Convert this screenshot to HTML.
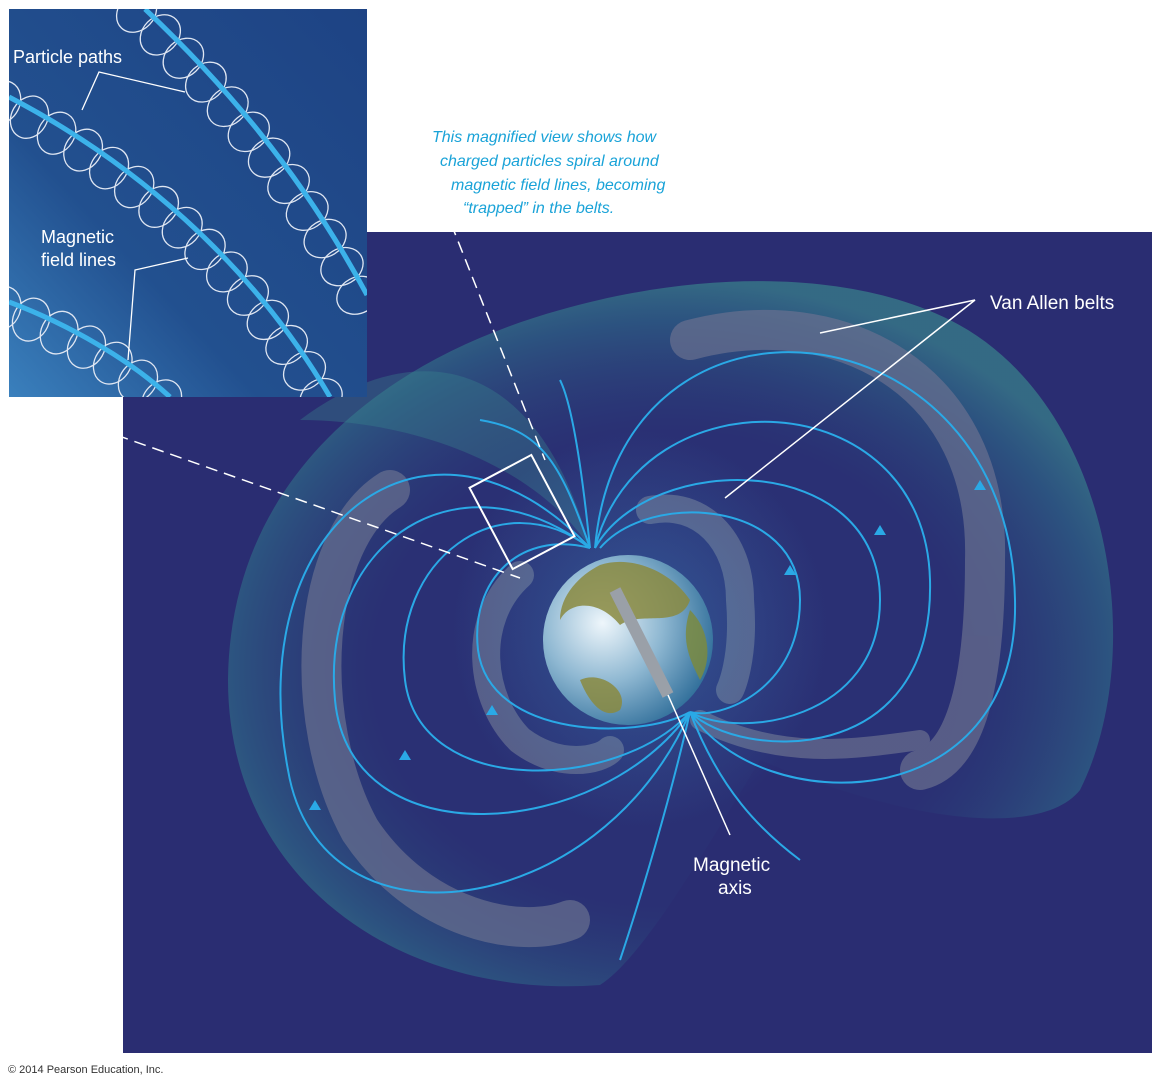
<!DOCTYPE html>
<html><head><meta charset="utf-8"><style>
body{margin:0;background:#fff;width:1162px;height:1088px;overflow:hidden;font-family:"Liberation Sans",sans-serif}
svg{position:absolute;left:0;top:0}
</style></head><body>
<svg width="1162" height="1088" viewBox="0 0 1162 1088" xmlns="http://www.w3.org/2000/svg">
<defs>
<linearGradient id="ins" x1="1" y1="0" x2="0" y2="1">
<stop offset="0" stop-color="#1e4384"/><stop offset="0.65" stop-color="#22508f"/><stop offset="1" stop-color="#3a80bd"/></linearGradient>
<radialGradient id="earth" cx="0.35" cy="0.4" r="0.7">
<stop offset="0" stop-color="#eef6fb"/><stop offset="0.5" stop-color="#8fb8d2"/><stop offset="1" stop-color="#2d6c98"/></radialGradient>
<radialGradient id="glow" cx="0.5" cy="0.5" r="0.5">
<stop offset="0" stop-color="#4bb6e8" stop-opacity="0.6"/><stop offset="1" stop-color="#4bb6e8" stop-opacity="0"/></radialGradient>
<radialGradient id="env" cx="0.5" cy="0.55" r="0.55">
<stop offset="0.6" stop-color="#2a3a7a" stop-opacity="0.2"/><stop offset="0.9" stop-color="#2f7a8e" stop-opacity="0.5"/><stop offset="1" stop-color="#3a8a8e" stop-opacity="0.65"/></radialGradient>
</defs>
<rect x="123" y="232" width="1029" height="821" fill="#2a2d72"/>
<path d="M228,680 C230,480 380,360 560,310 C700,270 850,270 950,320 C1110,400 1150,650 1080,790 C1040,840 900,820 760,760 C700,860 640,960 600,985 C400,1000 228,880 228,680Z" fill="url(#env)"/>
<path d="M300,420 C420,330 540,360 590,548 C540,470 420,420 300,420Z" fill="#3a8a8e" opacity="0.35"/>
<g fill="none" stroke="#6a7090" stroke-linecap="round" opacity="0.7">
<path d="M690,340 C840,300 990,380 985,560 C985,700 960,760 920,770" stroke-width="40"/>
<path d="M390,490 C310,540 300,720 360,830 C420,920 520,940 570,920" stroke-width="40"/>
<path d="M650,510 C700,500 740,540 740,600 C745,660 730,690 730,690" stroke-width="28"/>
<path d="M520,575 C470,620 480,700 520,740 C560,770 600,760 610,750" stroke-width="28"/>
<path d="M700,720 C780,760 850,750 920,740" stroke-width="20"/>
</g>
<ellipse cx="640" cy="630" rx="190" ry="200" fill="url(#glow)" opacity="0.5"/>
<g fill="none" stroke="#2aa9e6" stroke-width="2">
<path d="M590,548 C430,380 240,520 288,770 C320,960 600,920 690,712"/>
<path d="M590,548 C460,450 320,540 335,700 C350,860 600,840 690,712"/>
<path d="M590,548 C500,480 390,560 405,680 C420,800 620,790 690,712"/>
<path d="M590,548 C520,530 470,580 478,650 C490,740 640,740 690,712"/>
<path d="M595,548 C620,260 1010,300 1015,600 C1020,820 760,820 690,712"/>
<path d="M595,548 C640,370 925,380 930,580 C935,770 740,760 690,712"/>
<path d="M595,548 C650,450 880,450 880,600 C880,720 740,740 690,712"/>
<path d="M600,548 C650,490 800,500 800,600 C800,690 720,720 690,712"/>
<path d="M590,548 C560,460 540,430 480,420"/><path d="M590,548 C580,450 570,400 560,380"/>
<path d="M690,712 C670,800 640,900 620,960"/><path d="M690,712 C720,790 760,830 800,860"/>
</g>
<g fill="#2aa9e6">
<path d="M315,800 l-6,10 h12z"/><path d="M405,750 l-6,10 h12z"/><path d="M492,705 l-6,10 h12z"/>
<path d="M980,480 l-6,10 h12z"/><path d="M880,525 l-6,10 h12z"/><path d="M790,565 l-6,10 h12z"/>
</g>
<circle cx="628" cy="640" r="85" fill="url(#earth)"/>
<path d="M600,565 C630,555 670,570 690,600 C680,630 640,610 620,625 C600,600 570,600 560,620 C560,595 580,575 600,565Z" fill="#8a8a40" opacity="0.85"/>
<path d="M580,680 C600,670 630,690 620,710 C605,720 590,705 580,680Z" fill="#8a8a40" opacity="0.85"/>
<path d="M690,610 C710,630 712,660 700,680 C690,660 680,640 690,610Z" fill="#7a8a40" opacity="0.85"/>
<line x1="615" y1="590" x2="668" y2="695" stroke="#9aa0a8" stroke-width="12"/>
<line x1="668" y1="695" x2="730" y2="835" stroke="#fff" stroke-width="1.5"/>
<rect x="487" y="466" width="70" height="92" fill="none" stroke="#fff" stroke-width="2" transform="rotate(-28 522 512)"/>
<g stroke="#fff" stroke-width="1.5" stroke-dasharray="12,7" fill="none">
<line x1="367" y1="12" x2="545" y2="460"/><line x1="9" y1="397" x2="520" y2="578"/>
</g>
<svg x="9" y="9" width="358" height="388" viewBox="9 9 358 388" overflow="hidden">
<rect x="9" y="9" width="358" height="388" fill="url(#ins)"/>
<g id="loops" fill="none" stroke="#dfe6f2" stroke-width="1.3"></g>
<g fill="none" stroke="#3cb2ea" stroke-width="5">
<path id="l1" d="M145,9 C220,80 300,170 367,295"/>
<path id="l2" d="M9,97 C130,160 250,260 330,397"/>
<path id="l3" d="M9,302 C70,325 130,360 170,397"/>
</g>
</svg>
<g stroke="#fff" stroke-width="1.3" fill="none">
<polyline points="185,92 99,72 82,110"/><polyline points="188,258 135,270 128,360"/>
</g>
<text x="13" y="63" fill="#fff" font-size="18">Particle paths</text>
<text x="41" y="243" fill="#fff" font-size="18">Magnetic</text>
<text x="41" y="266" fill="#fff" font-size="18">field lines</text>
<g fill="#1aa3d8" font-size="16" font-style="italic">
<text x="432" y="142">This magnified view shows how</text>
<text x="440" y="166">charged particles spiral around</text>
<text x="451" y="190">magnetic field lines, becoming</text>
<text x="463" y="213">“trapped” in the belts.</text>
</g>
<g stroke="#fff" stroke-width="1.5" fill="none"><polyline points="820,333 975,300 725,498"/></g>
<text x="990" y="309" fill="#fff" font-size="19">Van Allen belts</text>
<text x="693" y="871" fill="#fff" font-size="19">Magnetic</text>
<text x="718" y="894" fill="#fff" font-size="19">axis</text>
<text x="8" y="1073" fill="#333" font-size="11">© 2014 Pearson Education, Inc.</text>
</svg>
<script>
var g=document.getElementById('loops'),s='';
['l1','l2','l3'].forEach(function(id){var p=document.getElementById(id),L=p.getTotalLength(),n=Math.floor(L/31);
for(var i=0;i<=n;i++){var d=i*L/n,a=p.getPointAtLength(d),b=p.getPointAtLength(Math.min(L,d+1)),c=p.getPointAtLength(Math.max(0,d-1));
var ang=Math.atan2(b.y-c.y,b.x-c.x)*180/Math.PI;
s+='<ellipse cx="'+a.x.toFixed(1)+'" cy="'+a.y.toFixed(1)+'" rx="18" ry="22" transform="rotate('+ang.toFixed(1)+' '+a.x.toFixed(1)+' '+a.y.toFixed(1)+') translate(-4,8)"/>';}});
g.innerHTML=s;
</script>
</body></html>
